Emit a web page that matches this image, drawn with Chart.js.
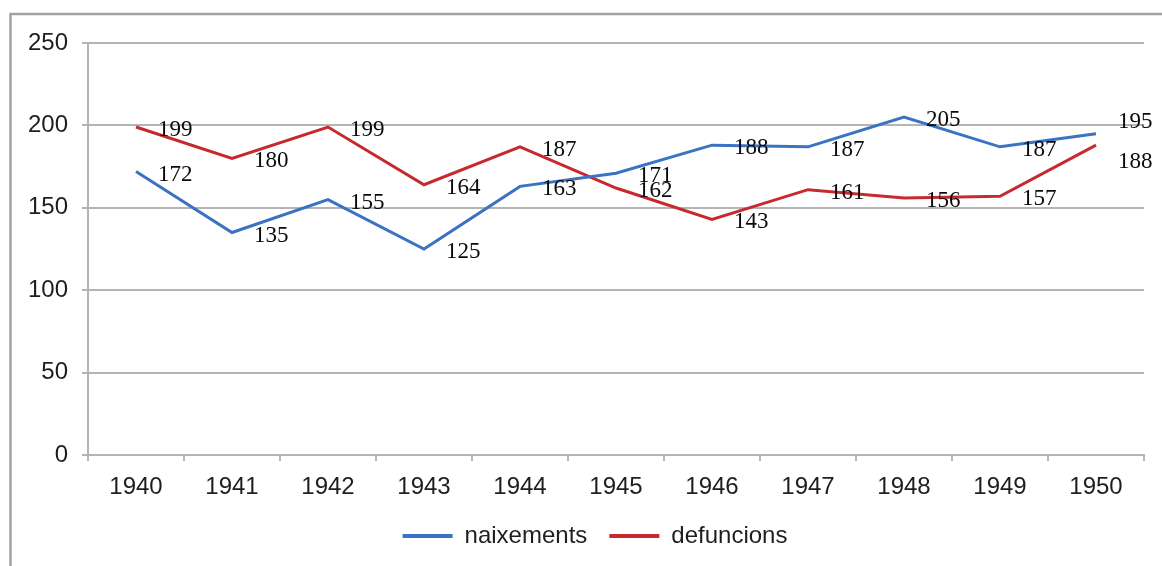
<!DOCTYPE html>
<html>
<head>
<meta charset="utf-8">
<script src="https://cdn.jsdelivr.net/npm/chart.js@4.4.0/dist/chart.umd.min.js"></script>
<style>
  html, body { margin: 0; padding: 0; background: #fff; }
  #wrap { position: relative; width: 1162px; height: 566px; }
</style>
</head>
<body>
<div id="wrap"><canvas id="c" width="1162" height="566"></canvas></div>
<script>
const categories = ['1940','1941','1942','1943','1944','1945','1946','1947','1948','1949','1950'];
const naixements = [172, 135, 155, 125, 163, 171, 188, 187, 205, 187, 195];
const defuncions = [199, 180, 199, 164, 187, 162, 143, 161, 156, 157, 188];
const seriesNames = ['naixements', 'defuncions'];
const yTicks = [0, 50, 100, 150, 200, 250];

const gridColor = '#b4b4b4';
const textColor = '#1e1e1e';

const framePlugin = {
  id: 'frame',
  afterLayout(chart) {
    const lg = chart.legend;
    if (lg) { lg.left += 23; lg.right += 23; }
  },
  beforeDraw(chart) {
    const ctx = chart.ctx;
    ctx.save();
    ctx.fillStyle = '#fff';
    ctx.fillRect(0, 0, chart.width, chart.height);
    ctx.strokeStyle = '#a3a3a3';
    ctx.lineWidth = 2.5;
    ctx.beginPath();
    ctx.moveTo(10.5, chart.height);
    ctx.lineTo(10.5, 14);
    ctx.lineTo(chart.width, 14);
    ctx.stroke();
    ctx.restore();
  }
};

// value labels placed to the right of each point; labels of the two series
// that would sit almost on top of each other are pushed apart
const labelPlugin = {
  id: 'valueLabels',
  afterDatasetsDraw(chart) {
    const ctx = chart.ctx;
    ctx.save();
    ctx.font = '23px "Liberation Serif", "DejaVu Serif", serif';
    ctx.fillStyle = '#0a0a0a';
    ctx.textAlign = 'left';
    ctx.textBaseline = 'middle';
    const m0 = chart.getDatasetMeta(0).data;
    const m1 = chart.getDatasetMeta(1).data;
    for (let i = 0; i < categories.length; i++) {
      let y0 = m0[i].y + 3, y1 = m1[i].y + 3;
      const dy = Math.abs(y0 - y1);
      if (dy < 13) {
        const push = (40 - dy) / 2;
        if (y0 <= y1) { y0 -= push; y1 += push; } else { y0 += push; y1 -= push; }
      }
      ctx.fillText(String(naixements[i]), m0[i].x + 22, y0);
      ctx.fillText(String(defuncions[i]), m1[i].x + 22, y1);
    }
    ctx.restore();
  }
};

new Chart(document.getElementById('c'), {
  type: 'line',
  data: {
    labels: categories,
    datasets: [
      {
        label: seriesNames[0],
        data: naixements,
        borderColor: '#3a72c4',
        backgroundColor: '#3a72c4',
        borderWidth: 3,
        pointRadius: 0,
        tension: 0
      },
      {
        label: seriesNames[1],
        data: defuncions,
        borderColor: '#c62a2f',
        backgroundColor: '#c62a2f',
        borderWidth: 3,
        pointRadius: 0,
        tension: 0
      }
    ]
  },
  options: {
    responsive: false,
    animation: false,
    devicePixelRatio: 1,
    layout: { padding: { left: 0, right: 18, top: 43, bottom: 8 } },
    plugins: {
      tooltip: { enabled: false },
      legend: {
        position: 'bottom',
        labels: {
          boxWidth: 50,
          boxHeight: 4,
          padding: 22,
          color: textColor,
          font: { family: '"Liberation Sans", Arial, sans-serif', size: 24 },
          generateLabels(chart) {
            return chart.data.datasets.map((ds, i) => ({
              text: ds.label,
              fillStyle: ds.borderColor,
              strokeStyle: ds.borderColor,
              lineWidth: 0,
              datasetIndex: i,
              fontColor: textColor
            }));
          }
        }
      }
    },
    scales: {
      x: {
        offset: true,
        afterFit(scale) { scale.height = 47; },
        grid: {
          offset: true,
          drawOnChartArea: false,
          drawTicks: true,
          tickLength: 6,
          color: gridColor,
          lineWidth: 2
        },
        border: { display: true, color: gridColor, width: 2 },
        ticks: {
          color: textColor,
          padding: 12,
          maxRotation: 0,
          font: { family: '"Liberation Sans", Arial, sans-serif', size: 24 }
        }
      },
      y: {
        min: 0,
        max: 250,
        afterFit(scale) { scale.width = 88; },
        afterBuildTicks(scale) { scale.ticks = yTicks.map(v => ({ value: v })); },
        grid: {
          color: gridColor,
          lineWidth: 2,
          drawTicks: true,
          tickLength: 6
        },
        border: { display: true, color: gridColor, width: 2 },
        ticks: {
          color: textColor,
          padding: 14,
          stepSize: 50,
          font: { family: '"Liberation Sans", Arial, sans-serif', size: 24 }
        }
      }
    }
  },
  plugins: [framePlugin, labelPlugin]
});
</script>
</body>
</html>
